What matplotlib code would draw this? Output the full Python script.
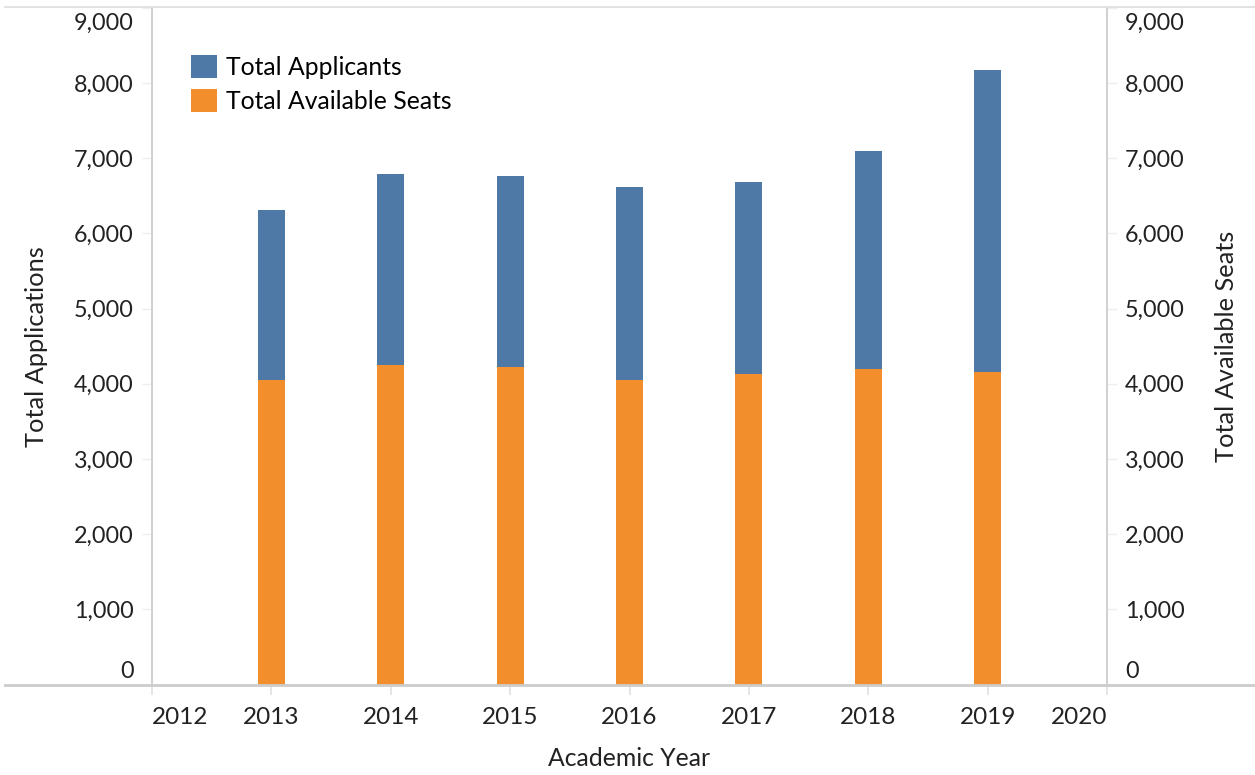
import matplotlib.pyplot as plt
from matplotlib.lines import Line2D
from matplotlib.transforms import ScaledTranslation

years = [2013, 2014, 2015, 2016, 2017, 2018, 2019]
applicants = [6310, 6790, 6760, 6615, 6680, 7095, 8175]
seats = [4050, 4250, 4220, 4050, 4130, 4195, 4155]

year_ticks = list(range(2012, 2021))
value_ticks = list(range(0, 9001, 1000))

blue = '#4e79a7'
orange = '#f28e2b'
grey = '#d0d0d0'
ink = '#222222'

plt.rcParams['font.family'] = ['Lato', 'DejaVu Sans']

W, H = 1255, 775
fig = plt.figure(figsize=(W / 100, H / 100), dpi=100)
x0, x1, y0, y1 = 152, 1107, 684.5, 8
ax = fig.add_axes([x0 / W, (H - y0) / H, (x1 - x0) / W, (y0 - y1) / H])

ax.bar(years, applicants, width=0.226, color=blue, label='Total Applicants', zorder=2)
ax.bar(years, seats, width=0.226, color=orange, label='Total Available Seats', zorder=3)

ax.set_xlim(2012, 2020)
ax.set_ylim(0, 9000)

ax2 = ax.twinx()
ax2.set_ylim(0, 9000)


def nudge(txt, dy_px):
    txt.set_transform(txt.get_transform() + ScaledTranslation(0, dy_px / 100, fig.dpi_scale_trans))


labels = [f'{v:,}' for v in value_ticks]
for a in (ax, ax2):
    a.set_yticks(value_ticks, labels=labels, fontsize=16.8, color=ink)
    a.tick_params(axis='y', length=7, width=1, color='#eeeeee', pad=6)
    for s in ('top', 'bottom'):
        a.spines[s].set_visible(False)
    for s in ('left', 'right'):
        a.spines[s].set_color(grey)
        a.spines[s].set_linewidth(1.2)
    tl = a.get_yticklabels()
    tl[0].set_va('bottom')
    tl[-1].set_va('top')
    nudge(tl[0], 3)
    nudge(tl[-1], -5)

ax.set_xticks(year_ticks, labels=[str(y) for y in year_ticks], fontsize=17.5, color=ink)
ax.tick_params(axis='x', length=7, width=1.2, color='#e0e0e0', pad=9)
xl = ax.get_xticklabels()
xl[0].set_ha('left')
xl[-1].set_ha('right')

ax.set_ylabel('Total Applications', fontsize=18.3, color=ink)
ax.yaxis.set_label_coords(-0.109, 0.5)
ax2.set_ylabel('Total Available Seats', fontsize=18.3, color=ink)
ax2.yaxis.set_label_coords(1.113, 0.5)
ax.set_xlabel('Academic Year', fontsize=17.8, color=ink)
ax.xaxis.set_label_coords(0.5, -0.092)

# full-width frame lines like the original
fig.add_artist(Line2D([5 / W, 1], [(H - y0) / H] * 2, color='#cccccc', lw=2))
fig.add_artist(Line2D([5 / W, 1], [(H - 7) / H] * 2, color='#dddddd', lw=1.2))

ax.legend(loc='upper left', bbox_to_anchor=(191 / W, 1 - 55 / H),
          bbox_transform=fig.transFigure, frameon=False, fontsize=17.8,
          handlelength=1.05, handleheight=1.05, handletextpad=0.38,
          labelspacing=0.4, borderpad=0, borderaxespad=0)

fig.savefig('out.png', dpi=100)
